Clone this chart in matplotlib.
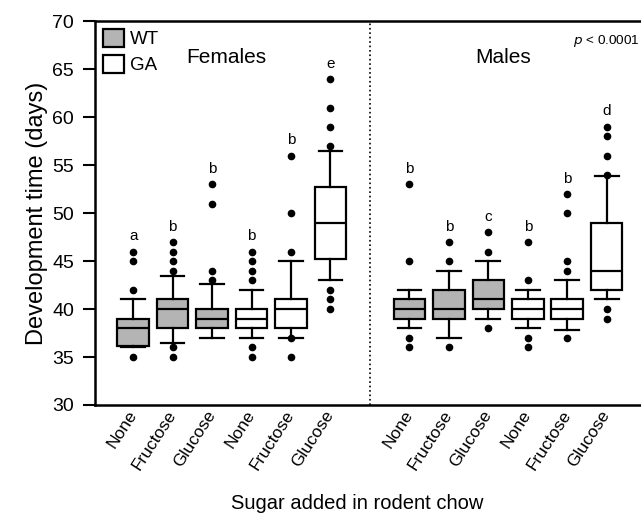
import numpy as np
import matplotlib.pyplot as plt
from matplotlib.patches import Patch

plt.rcParams['font.family'] = ['Liberation Sans', 'DejaVu Sans']

# groups: Females WT (None, Fructose, Glucose), Females GA (...), Males WT (...), Males GA (...)
sugars = ['None', 'Fructose', 'Glucose'] * 4
genotype = ['WT'] * 3 + ['GA'] * 3 + ['WT'] * 3 + ['GA'] * 3
whislo = [36, 36.5, 37, 37, 37, 43, 38, 37, 39, 38, 37.8, 41]
q1 = [36.2, 38, 38, 38, 38, 45.2, 39, 39, 40, 39, 39, 42]
med = [38, 40, 39, 39, 40, 49, 40, 40, 41, 40, 40, 44]
q3 = [39, 41, 40, 40, 41, 52.7, 41, 42, 43, 41, 41, 49]
whishi = [41, 43.5, 42.6, 42, 45, 56.5, 42, 44, 45, 42, 43, 53.9]
fliers = [
    [42, 45, 46, 35],
    [44, 45, 46, 47, 36, 35],
    [43, 44, 51, 53],
    [43, 44, 45, 46, 36, 35],
    [46, 50, 56, 37, 35],
    [57, 59, 61, 64, 42, 41, 40],
    [45, 53, 37, 36],
    [45, 47, 36],
    [46, 48, 38],
    [43, 47, 37, 36],
    [44, 45, 50, 52, 37],
    [54, 56, 58, 59, 40, 39],
]
letters = ['a', 'b', 'b', 'b', 'b', 'e', 'b', 'b', 'c', 'b', 'b', 'd']

positions = [1, 2, 3, 4, 5, 6, 8, 9, 10, 11, 12, 13]
colors = {'WT': '#b4b4b4', 'GA': 'white'}

stats = []
for i in range(12):
    stats.append({'whislo': whislo[i], 'q1': q1[i], 'med': med[i], 'q3': q3[i],
                  'whishi': whishi[i], 'fliers': fliers[i]})

fig = plt.figure(figsize=(6.41, 5.15), dpi=100)
ax = fig.add_axes([0.148, 0.2136, 0.852, 0.745])

lw = 1.6
bp = ax.bxp(stats, positions=positions, widths=0.8, patch_artist=True, showfliers=True,
            boxprops=dict(linewidth=lw, edgecolor='black'),
            medianprops=dict(color='black', linewidth=lw),
            whiskerprops=dict(color='black', linewidth=lw),
            capprops=dict(color='black', linewidth=lw),
            flierprops=dict(marker='o', markerfacecolor='black', markeredgecolor='black',
                            markersize=4.5, linestyle='none'))
for i, box in enumerate(bp['boxes']):
    box.set_facecolor(colors[genotype[i]])
for cap in bp['caps']:
    x = cap.get_xdata()
    c = (x[0] + x[1]) / 2
    cap.set_xdata([c - 0.3, c + 0.3])

# significance letters
for i in range(12):
    top = max([whishi[i]] + fliers[i])
    ax.text(positions[i], top + 1.6, letters[i], ha='center', va='center', fontsize=11)

ax.axvline(7, color='black', linestyle=':', linewidth=1.2)

ax.set_xlim(0.03, 13.87)
ax.set_ylim(30, 70)
ax.set_yticks(range(30, 71, 5))
ax.set_xticks(positions)
ax.set_xticklabels(sugars, rotation=57, ha='right', va='center', rotation_mode='anchor', fontsize=12.5)
ax.tick_params(axis='x', length=0, pad=5)
ax.tick_params(axis='y', direction='out', length=8.5, width=1.5, labelsize=14, pad=6.5)
for s in ['left', 'bottom', 'top']:
    ax.spines[s].set_linewidth(1.8)
ax.spines['right'].set_visible(False)

ax.set_ylabel('Development time (days)', fontsize=17, labelpad=3)
ax.set_xlabel('Sugar added in rodent chow', fontsize=14.5)
ax.xaxis.set_label_coords(0.48, -0.232)

ax.text(3.35, 66.2, 'Females', ha='center', va='center', fontsize=15)
ax.text(10.37, 66.2, 'Males', ha='center', va='center', fontsize=15)
ax.text(0.997, 0.97, '$p$ < 0.0001', transform=ax.transAxes, ha='right', va='top', fontsize=9.7)

handles = [Patch(facecolor=colors['WT'], edgecolor='black', linewidth=lw, label='WT'),
           Patch(facecolor=colors['GA'], edgecolor='black', linewidth=lw, label='GA')]
ax.legend(handles=handles, loc='upper left', bbox_to_anchor=(0.005, 0.995), frameon=False, fontsize=13.5,
          handlelength=1.12, handleheight=1.12, handletextpad=0.3, labelspacing=0.35,
          borderaxespad=0.0, borderpad=0.3)

fig.savefig('out.png', dpi=100)
